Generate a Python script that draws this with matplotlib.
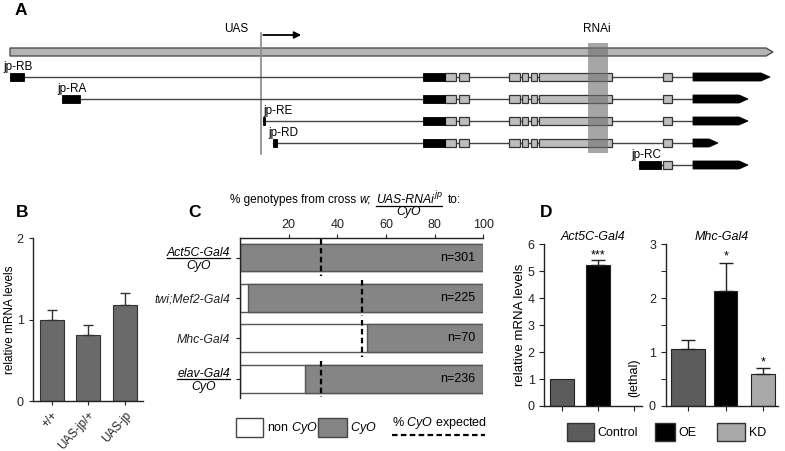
import numpy as np
import matplotlib
matplotlib.use('Agg')
import matplotlib.pyplot as plt
from matplotlib.patches import Rectangle, Polygon

plt.rcParams['font.family'] = ['Liberation Sans', 'DejaVu Sans']
plt.rcParams['font.size'] = 9
plt.rcParams['mathtext.fontset'] = 'custom'
plt.rcParams['mathtext.rm'] = 'Liberation Sans'
plt.rcParams['mathtext.it'] = 'Liberation Sans:italic'

W, H = 785, 451

# ---------------- data ----------------
# A: gene model, positions along the locus (drawing units)
locus = (10, 773)
uas_pos = 261
rnai_span = (588, 608)
tx_names = ['jp-RB', 'jp-RA', 'jp-RE', 'jp-RD', 'jp-RC']
tx_start = [10, 62, 263, 273, 639]
tx_tip = [770, 748, 748, 718, 748]
shared_black = (423, 445)
shared_gray = [(445, 456), (459, 469), (509, 520), (522, 528), (531, 537), (539, 612), (663, 672)]
tx_black = [[(10, 24), shared_black], [(62, 80), shared_black], [(263, 265), shared_black],
            [(273, 277), shared_black], [(639, 661)]]
tx_gray = [shared_gray, shared_gray, shared_gray, shared_gray, [(663, 672)]]
utr3_start = 693

# B
b_labels = ['+/+', 'UAS-jp/+', 'UAS-jp']
b_vals = [1.0, 0.81, 1.18]
b_err = [0.12, 0.12, 0.15]

# C
c_rows = ['Act5C-Gal4', 'twi;Mef2-Gal4', 'Mhc-Gal4', 'elav-Gal4']
c_balancer = [True, False, False, True]
c_noncyo = [0, 3.2, 52, 26.7]
c_expected = [33.3, 50, 50, 33.3]
c_n = [301, 225, 70, 236]

# D
d_groups = ['Control', 'OE', 'KD']
d_colors = ['#5c5c5c', '#000000', '#a9a9a9']
act_vals = [1.0, 5.25]
act_err = [0.0, 0.15]
mhc_vals = [1.05, 2.14, 0.59]
mhc_err = [0.17, 0.52, 0.11]
mhc_stars = ['', '*', '*']

fig = plt.figure(figsize=(W / 100, H / 100), dpi=100)


def px_box(x0, y0, x1, y1):
    return [x0 / W, 1 - y1 / H, (x1 - x0) / W, (y1 - y0) / H]


def arrow_poly(x0, x1, yc, h, head):
    return [(x0, yc - h / 2), (x1 - head, yc - h / 2), (x1, yc),
            (x1 - head, yc + h / 2), (x0, yc + h / 2)]


ov = fig.add_axes([0, 0, 1, 1])
ov.set_xlim(0, W)
ov.set_ylim(H, 0)
ov.axis('off')

# panel letters
for lab, x, y in [('A', 15, 15), ('B', 16, 217), ('C', 188, 217), ('D', 540, 217)]:
    ov.text(x, y, lab, fontsize=12.5, fontweight='bold', va='baseline')

# ---------------- A ----------------
ov.add_patch(Polygon(arrow_poly(locus[0], locus[1], 52, 8, 7), closed=True,
                     facecolor='#b4b4b4', edgecolor='#505050', lw=1))
ov.plot([uas_pos, uas_pos], [33, 154], color='#8a8a8a', lw=1.2)
ov.annotate('', xy=(304, 35), xytext=(uas_pos - 0.5, 35),
            arrowprops=dict(arrowstyle='-|>', color='black', lw=1.3, mutation_scale=10))
ov.text(236, 32, 'UAS', ha='center', va='baseline', fontsize=8.5)
ov.text(597, 32, 'RNAi', ha='center', va='baseline', fontsize=8.5)

lab_dx = [-7, -5, 0, -5, -8]
for i, name in enumerate(tx_names):
    y = 77 + 22 * i
    ov.plot([tx_start[i], utr3_start], [y, y], color='#444444', lw=1, zorder=2)
    for a, b in tx_gray[i]:
        ov.add_patch(Rectangle((a, y - 4), b - a, 8, facecolor='#bdbdbd',
                               edgecolor='#333333', lw=0.9, zorder=3))
    for a, b in tx_black[i]:
        ov.add_patch(Rectangle((a, y - 4), b - a, 8, facecolor='black',
                               edgecolor='black', lw=0.6, zorder=3))
    ov.add_patch(Polygon(arrow_poly(utr3_start, tx_tip[i], y, 8, 9), closed=True,
                         facecolor='black', edgecolor='black', lw=0.6, zorder=3))
    ov.text(tx_start[i] + lab_dx[i], y - 7, name, fontsize=8.5, va='baseline')

ov.add_patch(Rectangle((rnai_span[0], 43), rnai_span[1] - rnai_span[0], 110,
                       facecolor='#707070', alpha=0.62, lw=0, zorder=4))

# ---------------- B ----------------
axb = fig.add_axes(px_box(33.3, 238.3, 143, 401))
axb.patch.set_visible(False)
xb = np.arange(len(b_vals))
axb.bar(xb, b_vals, width=0.66, color='#6a6a6a', edgecolor='#333333', lw=0.8)
axb.errorbar(xb, b_vals, yerr=[np.zeros(3), b_err], fmt='none', ecolor='#333333',
             elinewidth=1, capsize=3.6, capthick=1)
axb.set_xlim(-0.5, 2.5)
axb.set_ylim(0, 2)
axb.set_yticks([0, 1, 2])
axb.set_xticks(xb)
axb.set_xticklabels(b_labels, rotation=48, ha='right', va='top', rotation_mode='anchor',
                    fontsize=8.5)
axb.tick_params(axis='x', length=3, pad=3)
axb.tick_params(axis='y', length=3, pad=4, labelsize=9)
for s in ['top', 'right']:
    axb.spines[s].set_visible(False)
axb.set_ylabel('relative mRNA levels', fontsize=8.5)
axb.yaxis.set_label_coords(-0.16, 0.5)

# ---------------- C ----------------
axc = fig.add_axes(px_box(240, 238.3, 483.3, 398))
axc.patch.set_visible(False)
rows = np.arange(len(c_rows))
axc.barh(rows, [100] * len(rows), height=0.69, color='white', edgecolor='#555555', lw=1)
axc.barh(rows, 100 - np.array(c_noncyo), left=c_noncyo, height=0.69, color='#858585',
         edgecolor='#555555', lw=1)
for i in rows:
    axc.plot([c_expected[i]] * 2, [i - 0.45, i + 0.45], color='black', lw=1.6,
             dashes=(2.5, 1.5))
    axc.text(96.6, i, f'n={c_n[i]}', ha='right', va='center', fontsize=9)
axc.set_xlim(0, 100)
axc.set_ylim(3.475, -0.475)
axc.xaxis.set_ticks_position('top')
axc.set_xticks([20, 40, 60, 80, 100])
axc.tick_params(axis='x', length=3, pad=2.5, labelsize=9)
axc.set_yticks(rows)
axc.set_yticklabels([('' if c_balancer[i] else c_rows[i]) for i in rows], style='italic',
                    fontsize=8.8)
axc.tick_params(axis='y', length=3, pad=4)
for s in ['bottom', 'right']:
    axc.spines[s].set_visible(False)

# D left
axd1 = fig.add_axes(px_box(544.3, 244.3, 641.7, 406))
axd1.patch.set_visible(False)
axd1.bar([0, 1], act_vals, width=0.67, color=d_colors[:2], edgecolor='#222222', lw=0.8)
axd1.errorbar([1], act_vals[1:], yerr=[[0], act_err[1:]], fmt='none', ecolor='#222222',
              elinewidth=1, capsize=5, capthick=1)
axd1.annotate('***', (1, act_vals[1] + act_err[1]), xytext=(0, 1.5),
              textcoords='offset points', ha='center', va='baseline', fontsize=9)
axd1.text(2, 0.35, '(lethal)', rotation=90, ha='center', va='bottom', fontsize=9)
axd1.set_xlim(-0.48, 2.21)
axd1.set_ylim(0, 6)
axd1.set_yticks(range(7))
axd1.set_xticks([0, 1, 2])
axd1.set_xticklabels([])
axd1.tick_params(axis='both', length=3.5, labelsize=9)
axd1.set_title('Act5C-Gal4', style='italic', fontsize=9, pad=3)
axd1.set_ylabel('relative mRNA levels', fontsize=9.5)
axd1.yaxis.set_label_coords(-0.19, 0.5)
for s in ['top', 'right']:
    axd1.spines[s].set_visible(False)

# D right
axd2 = fig.add_axes(px_box(665.7, 244.3, 778.3, 406))
axd2.patch.set_visible(False)
xd = np.arange(3)
axd2.bar(xd, mhc_vals, width=[0.9, 0.62, 0.63], color=d_colors, edgecolor='#222222', lw=0.8)
axd2.errorbar(xd, mhc_vals, yerr=[np.zeros(3), mhc_err], fmt='none', ecolor='#222222',
              elinewidth=1, capsize=5, capthick=1)
for i in xd:
    if mhc_stars[i]:
        axd2.annotate(mhc_stars[i], (i, mhc_vals[i] + mhc_err[i]), xytext=(0, 2),
                      textcoords='offset points', ha='center', va='baseline', fontsize=9)
axd2.set_xlim(-0.6, 2.4)
axd2.set_ylim(0, 3)
axd2.set_yticks([0, 1, 2, 3])
axd2.set_yticks([0.5, 1.5, 2.5], minor=True)
axd2.set_xticks(xd)
axd2.set_xticklabels([])
axd2.tick_params(axis='both', which='both', length=3.5, labelsize=9)
axd2.set_title('Mhc-Gal4', style='italic', fontsize=9, pad=3)
for s in ['top', 'right']:
    axd2.spines[s].set_visible(False)

for ax in [axb, axc, axd1, axd2]:
    for s in ax.spines.values():
        s.set_color('#222222')
        s.set_linewidth(1)
    ax.tick_params(colors='#222222')

# ---------- text pieces that need measured positions ----------
r = fig.canvas.get_renderer()


def ext(t):
    bb = t.get_window_extent(renderer=r)
    return bb.x0, bb.x1


# C title
t = ov.text(230, 203, '% genotypes from cross', fontsize=8.5, va='baseline')
x = ext(t)[1] + 3
t = ov.text(x, 203, 'w;', fontsize=8.5, style='italic', va='baseline')
x = ext(t)[1] + 5
num = ov.text(x, 203, 'UAS-RNAi', fontsize=8.8, style='italic', va='baseline')
xs = ext(num)[1] + 1.5
sup = ov.text(xs, 197, 'jp', fontsize=6.5, style='italic', va='baseline')
x_end = ext(sup)[1]
ov.plot([x, x_end], [205.5, 205.5], color='black', lw=0.9)
ov.text((x + x_end) / 2, 206, 'CyO', fontsize=8.8, style='italic', ha='center', va='top')
ov.text(x_end + 6, 203, 'to:', fontsize=8.5, va='baseline')

# C fraction tick labels
for i in rows:
    if not c_balancer[i]:
        continue
    yc = H - axc.transData.transform((0, i))[1]
    t = ov.text(230, yc - 1.5, c_rows[i], fontsize=8.8, style='italic', ha='right',
                va='baseline')
    x0, x1 = ext(t)
    ov.plot([x0, x1], [yc + 0.5, yc + 0.5], color='black', lw=0.9)
    ov.text((x0 + x1) / 2, yc + 2, 'CyO', fontsize=8.8, style='italic', ha='center', va='top')

# C legend
ov.add_patch(Rectangle((236, 418), 27, 19, facecolor='white', edgecolor='#444444', lw=1))
ov.text(267, 431, 'non $\\it{CyO}$', fontsize=9, va='baseline')
ov.add_patch(Rectangle((318, 418), 29, 19, facecolor='#858585', edgecolor='#444444', lw=1))
ov.text(350, 431, '$\\it{CyO}$', fontsize=9, va='baseline')
ov.text(392, 426, '% $\\it{CyO}$ expected', fontsize=9, va='baseline')
ov.plot([392, 485], [434.5, 434.5], color='black', lw=1.6, dashes=(2.5, 1.5))

# D legend
for (x0, w), col, lab in zip([(567, 27), (655, 19.5), (717, 28)], d_colors, d_groups):
    ov.add_patch(Rectangle((x0, 422.5), w, 18, facecolor=col, edgecolor='#333333', lw=1))
    ov.text(x0 + w + 3.5, 436, lab, fontsize=9, va='baseline')

fig.savefig('out.png', dpi=100)
